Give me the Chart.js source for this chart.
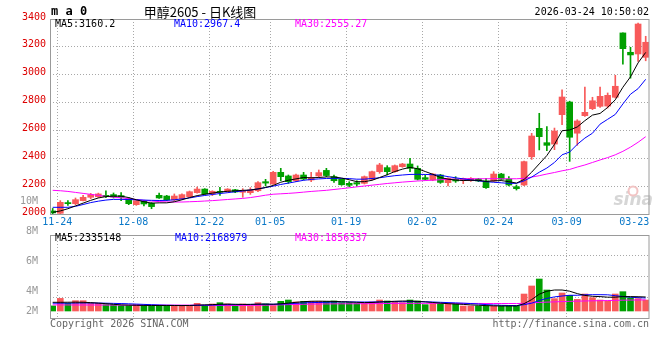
<!DOCTYPE html>
<html><head><meta charset="utf-8">
<script src="https://cdn.jsdelivr.net/npm/chart.js@4.4.1/dist/chart.umd.min.js"></script>
<style>
html,body{margin:0;padding:0;background:#fff;}
#wrap{position:relative;width:660px;height:360px;overflow:hidden;}
canvas{position:absolute;left:0;top:0;}
</style></head><body>
<div id="wrap"><canvas id="k" width="660" height="360"></canvas><canvas id="v" width="660" height="360"></canvas></div>
<script>
// ---------------- data ----------------
const dates = [
 '11-24','11-25','11-26','11-27','11-28',
 '12-01','12-02','12-03','12-04','12-05',
 '12-08','12-09','12-10','12-11','12-12',
 '12-15','12-16','12-17','12-18','12-19',
 '12-22','12-23','12-24','12-25','12-26',
 '12-29','12-30','12-31',
 '01-05','01-06','01-07','01-08','01-09',
 '01-12','01-13','01-14','01-15','01-16',
 '01-19','01-20','01-21','01-22','01-23',
 '01-26','01-27','01-28','01-29','01-30',
 '02-02','02-03','02-04','02-05','02-06',
 '02-09','02-10','02-11','02-12','02-13',
 '02-24','02-25','02-26','02-27',
 '03-02','03-03','03-04','03-05','03-06',
 '03-09','03-10','03-11','03-12','03-13',
 '03-16','03-17','03-18','03-19','03-20',
 '03-23','03-24'
];
const opens = [2022,2005,2082,2074,2096,2120,2124,2134,2139,2132,
 2110,2067,2091,2077,2134,2129,2101,2110,2124,2153,
 2179,2144,2163,2160,2174,2156,2153,2167,2232,2215,
 2299,2273,2239,2280,2244,2273,2313,2268,2249,2220,
 2225,2220,2249,2304,2333,2304,2340,2359,2328,2261,
 2244,2280,2225,2251,2244,2239,2251,2237,2237,2287,
 2251,2196,2208,2411,2615,2512,2502,2713,2804,2580,
 2706,2756,2773,2775,2838,3300,3161,3149,3125];
const highs = [2040,2096,2096,2115,2134,2148,2150,2167,2151,2153,
 2118,2103,2098,2082,2151,2134,2144,2144,2165,2194,
 2182,2167,2191,2182,2177,2182,2189,2232,2249,2306,
 2328,2280,2287,2299,2299,2316,2328,2280,2253,2232,
 2239,2273,2309,2364,2347,2352,2364,2400,2345,2280,
 2290,2285,2260,2268,2258,2261,2256,2256,2304,2292,
 2268,2208,2380,2579,2723,2627,2617,2892,2810,2677,
 2912,2838,2912,2869,2996,3300,3197,3371,3276];
const lows = [2000,2000,2062,2067,2094,2110,2118,2118,2115,2096,
 2067,2062,2058,2038,2112,2096,2096,2106,2120,2150,
 2140,2132,2134,2156,2153,2120,2141,2160,2201,2213,
 2239,2220,2232,2244,2232,2263,2268,2227,2206,2196,
 2201,2215,2244,2292,2280,2299,2335,2304,2244,2244,
 2239,2220,2201,2227,2218,2234,2232,2184,2232,2244,
 2201,2172,2203,2392,2460,2455,2462,2641,2378,2493,
 2700,2749,2766,2761,2833,3075,2975,3096,3100];
const closes = [2008,2084,2074,2103,2120,2139,2144,2124,2122,2120,
 2074,2096,2072,2053,2115,2101,2129,2139,2160,2179,
 2144,2163,2156,2179,2158,2167,2172,2225,2222,2299,
 2268,2232,2280,2251,2261,2297,2276,2239,2210,2206,
 2215,2268,2304,2352,2304,2347,2359,2328,2249,2249,
 2287,2227,2256,2237,2256,2256,2237,2189,2287,2249,
 2208,2182,2376,2560,2555,2493,2596,2840,2551,2668,
 2730,2813,2845,2852,2917,3187,3142,3364,3233];
const ma5 = [2012,2022,2038,2058,2078,2098,2115,2125,2128,2128,
 2118,2102,2088,2078,2080,2080,2088,2102,2118,2132,
 2142,2150,2158,2163,2166,2170,2172,2180,2190,2205,
 2228,2242,2252,2262,2260,2262,2266,2266,2258,2246,
 2232,2232,2242,2262,2282,2305,2322,2335,2325,2305,
 2285,2262,2250,2244,2240,2242,2242,2234,2238,2240,
 2232,2222,2248,2300,2360,2420,2500,2598,2603,2625,
 2670,2710,2722,2765,2820,2910,2985,3085,3160];
const ma10 = [2048,2048,2048,2055,2068,2082,2092,2100,2105,2105,
 2104,2102,2100,2098,2097,2098,2102,2108,2115,2125,
 2133,2140,2147,2153,2160,2165,2172,2180,2190,2200,
 2212,2222,2232,2242,2248,2252,2255,2256,2256,2254,
 2250,2250,2255,2260,2268,2275,2280,2284,2285,2284,
 2282,2278,2268,2260,2252,2245,2238,2232,2228,2224,
 2220,2220,2238,2265,2300,2330,2370,2425,2445,2500,
 2545,2580,2645,2680,2715,2790,2860,2900,2967];
const ma30 = [2170,2167,2162,2155,2148,2141,2134,2127,2121,2116,
 2110,2104,2098,2093,2089,2087,2086,2086,2088,2090,
 2093,2096,2100,2104,2108,2112,2118,2126,2135,2142,
 2145,2148,2152,2157,2162,2166,2170,2176,2182,2188,
 2195,2201,2207,2213,2219,2224,2229,2233,2237,2240,
 2243,2246,2249,2251,2252,2253,2253,2253,2254,2253,
 2253,2253,2256,2265,2275,2287,2298,2310,2320,2337,
 2352,2370,2388,2405,2425,2450,2480,2515,2555];
const volumes = [850000,2100000,1280000,1720000,1720000,1280000,1280000,1060000,1060000,900000,
 900000,1060000,900000,900000,900000,900000,900000,900000,900000,1280000,
 900000,1170000,1390000,1170000,900000,1170000,900000,1390000,1170000,900000,
 1610000,1830000,1500000,1610000,1610000,1610000,1610000,1670000,1390000,1390000,
 1280000,1280000,1500000,1830000,1670000,1500000,1390000,1830000,1670000,1060000,
 1280000,1280000,1170000,1170000,830000,830000,830000,830000,830000,830000,
 830000,830000,2830000,4170000,5330000,3500000,2060000,3000000,2610000,1940000,
 2830000,2220000,1830000,1670000,2830000,3220000,2220000,2060000,1830000];
const volMa5 = [1450000,1450000,1460000,1470000,1450000,1400000,1320000,1220000,1120000,1020000,
 980000,950000,930000,920000,920000,920000,920000,900000,920000,980000,
 1020000,1060000,1120000,1150000,1120000,1100000,1100000,1140000,1150000,1120000,
 1200000,1320000,1450000,1550000,1620000,1640000,1620000,1600000,1550000,1500000,
 1450000,1400000,1420000,1500000,1560000,1620000,1660000,1660000,1600000,1520000,
 1420000,1320000,1220000,1160000,1100000,1020000,960000,900000,860000,840000,
 840000,840000,1220000,1900000,2800000,3300000,3500000,3500000,3300000,2900000,
 2600000,2450000,2400000,2300000,2300000,2400000,2400000,2380000,2335148];
const volMa10 = [1300000,1300000,1300000,1320000,1330000,1330000,1320000,1300000,1270000,1240000,
 1200000,1150000,1100000,1050000,1000000,960000,930000,920000,920000,940000,
 960000,990000,1020000,1050000,1060000,1080000,1100000,1120000,1130000,1130000,
 1150000,1200000,1280000,1350000,1400000,1420000,1450000,1500000,1520000,1520000,
 1500000,1500000,1500000,1520000,1540000,1550000,1550000,1570000,1570000,1540000,
 1500000,1450000,1400000,1350000,1300000,1240000,1160000,1070000,1000000,950000,
 920000,900000,1050000,1300000,1750000,2100000,2350000,2500000,2620000,2620000,
 2700000,2720000,2720000,2700000,2550000,2420000,2300000,2220000,2168979];
const volMa30 = [1020000,1020000,1010000,1010000,1000000,1000000,1000000,990000,990000,980000,
 980000,980000,980000,980000,980000,980000,980000,980000,980000,980000,
 950000,930000,920000,920000,920000,920000,930000,950000,970000,1000000,
 1030000,1060000,1090000,1120000,1150000,1170000,1180000,1190000,1200000,1200000,
 1210000,1220000,1230000,1240000,1250000,1260000,1270000,1280000,1280000,1280000,
 1280000,1280000,1280000,1270000,1270000,1260000,1260000,1250000,1250000,1250000,
 1250000,1240000,1280000,1340000,1420000,1480000,1520000,1570000,1610000,1640000,
 1670000,1700000,1720000,1740000,1770000,1800000,1820000,1840000,1856337];
const dateTickLabels = ['11-24','12-08','12-22','01-05','01-19','02-02','02-24','03-09','03-23'];
const priceTickValues = [2000,2200,2400,2600,2800,3000,3200,3400];
const volTickValues = [2000000,4000000,6000000,8000000,10000000];
const maTag = 'm a 0';
const titleText = '甲醇2605 - 日K线图';
const timeText = '2026-03-24 10:50:02';
const priceLegend = ['MA5:3160.2','MA10:2967.4','MA30:2555.27'];
const volLegend = ['MA5:2335148','MA10:2168979','MA30:1856337'];
const copyrightText = 'Copyright 2026 SINA.COM';
const urlText = 'http://finance.sina.com.cn';
const watermarkText = 'sina';

// ---------------- styles ----------------
const RED = '#f85a5a', GREEN = '#00a000';
const MA_COLORS = ['#000000', '#0000ff', '#ff00ff'];
const GRID = '#a8a8a8', FRAME = '#9a9a9a';
const MONO = '"DejaVu Sans Mono", "Liberation Mono", monospace';
const X_MIN = -0.355, X_MAX = 78.435;

const candleColors = closes.map((c, i) => c >= opens[i] ? RED : GREEN);
const pts = arr => arr.map((y, x) => ({x, y}));

function dateTicks(s) {
  const last = dates.length - 1;
  s.ticks = dateTickLabels.map(lbl => {
    const i = dates.indexOf(lbl);
    const want = i + 0.6;
    const v = Math.min(want, last - 1.5);
    return {value: v, lbl, clamped: v < want};
  });
}
const gridColor = c => (c.tick && c.tick.clamped) ? 'rgba(0,0,0,0)' : GRID;

const framePlugin = {
  id: 'frame',
  afterDatasetsDraw(chart) {
    const {ctx, chartArea: a} = chart;
    ctx.save();
    ctx.strokeStyle = FRAME; ctx.lineWidth = 1;
    ctx.strokeRect(a.left + 0.5, a.top + 0.5, a.right - a.left - 0.5, a.bottom - a.top);
    ctx.restore();
  }
};
function text(ctx, s, x, y, color, font, align) {
  ctx.fillStyle = color; ctx.font = font; ctx.textAlign = align || 'left'; ctx.textBaseline = 'middle';
  ctx.fillText(s, x, y);
}
const headerPlugin = {
  id: 'header',
  beforeDatasetsDraw(chart) {
    const ctx = chart.ctx;
    ctx.save();
    ctx.font = 'italic bold 17px "DejaVu Sans", sans-serif';
    ctx.fillStyle = '#d6d6d6'; ctx.textAlign = 'right'; ctx.textBaseline = 'alphabetic';
    ctx.fillText(watermarkText, 653, 205);
    ctx.strokeStyle = '#f2c4c4'; ctx.lineWidth = 2;
    ctx.beginPath(); ctx.arc(633, 191, 4.5, 0, Math.PI * 2); ctx.stroke();
    ctx.restore();
  },
  afterDraw(chart) {
    const ctx = chart.ctx;
    ctx.save();
    text(ctx, maTag, 51, 12, '#000', 'bold 12px ' + MONO);
    text(ctx, titleText, 200, 12, '#000', '13px "Noto Sans CJK SC", sans-serif', 'center');
    text(ctx, timeText, 649, 12, '#000', '10px ' + MONO, 'right');
    text(ctx, priceLegend[0], 55, 24, MA_COLORS[0], '10px ' + MONO);
    text(ctx, priceLegend[1], 174, 24, MA_COLORS[1], '10px ' + MONO);
    text(ctx, priceLegend[2], 295, 24, MA_COLORS[2], '10px ' + MONO);
    ctx.restore();
  }
};
const footerPlugin = {
  id: 'footer',
  afterDraw(chart) {
    const ctx = chart.ctx;
    ctx.save();
    text(ctx, volLegend[0], 55, 238.5, MA_COLORS[0], '10px ' + MONO);
    text(ctx, volLegend[1], 175, 238.5, MA_COLORS[1], '10px ' + MONO);
    text(ctx, volLegend[2], 295, 238.5, MA_COLORS[2], '10px ' + MONO);
    text(ctx, copyrightText, 50, 324, '#666', '10px ' + MONO);
    text(ctx, urlText, 649, 324, '#666', '10px ' + MONO, 'right');
    ctx.restore();
  }
};

const lineDs = (arr, i, yAxisID) => ({
  type: 'line', data: pts(arr), borderColor: MA_COLORS[i], borderWidth: 1,
  pointRadius: 0, tension: 0, order: i, yAxisID
});

Chart.defaults.font.family = MONO;
Chart.defaults.font.size = 10;

// ---------------- price chart ----------------
new Chart(document.getElementById('k'), {
  type: 'bar',
  data: {
    datasets: [
      lineDs(ma5, 0, 'y'), lineDs(ma10, 1, 'y'), lineDs(ma30, 2, 'y'),
      {type: 'bar', data: opens.map((o, x) => ({x, y: [o, closes[x]]})), backgroundColor: candleColors,
       barThickness: 6, grouped: false, minBarLength: 1, order: 5, yAxisID: 'y'},
      {type: 'bar', data: lows.map((l, x) => ({x, y: [l, highs[x]]})), backgroundColor: candleColors,
       barThickness: 1, grouped: false, order: 6, yAxisID: 'y'}
    ]
  },
  options: {
    responsive: false, animation: false, events: [],
    layout: {padding: {left: 0, top: 19, right: 11, bottom: 126}},
    plugins: {legend: {display: false}, tooltip: {enabled: false}},
    scales: {
      x: {type: 'linear', min: X_MIN, max: X_MAX, offset: false,
          afterBuildTicks: dateTicks,
          afterFit: s => { s.height = 20; s.paddingLeft = 0; s.paddingRight = 0; },
          ticks: {autoSkip: false, maxRotation: 0, color: '#0a78c8', padding: 2,
                  font: {family: MONO, size: 10}, callback: (v, i, t) => t[i].lbl},
          grid: {offset: false, drawTicks: false, color: gridColor, lineWidth: 1},
          border: {display: false, dash: [1, 2]}},
      y: {type: 'linear', min: 2000, max: 3400, beginAtZero: false,
          afterBuildTicks: s => { s.ticks = priceTickValues.map(v => ({value: v})); },
          afterFit: s => { s.width = 50; s.paddingTop = 0; s.paddingBottom = 0; },
          ticks: {autoSkip: false, color: '#dd0000', padding: 4, labelOffset: -2,
                  font: {family: MONO, size: 10}, callback: v => String(v)},
          grid: {drawTicks: false, color: GRID, lineWidth: 1},
          border: {display: false, dash: [1, 2]}}
    }
  },
  plugins: [framePlugin, headerPlugin]
});

// ---------------- volume chart ----------------
new Chart(document.getElementById('v'), {
  type: 'bar',
  data: {
    datasets: [
      lineDs(volMa5, 0, 'yg'), lineDs(volMa10, 1, 'yg'), lineDs(volMa30, 2, 'yg'),
      {type: 'bar', data: pts(volumes), backgroundColor: candleColors,
       barThickness: 6, grouped: false, order: 5, yAxisID: 'yg'}
    ]
  },
  options: {
    responsive: false, animation: false, events: [],
    layout: {padding: {left: 0, top: 235, right: 11, bottom: 42}},
    plugins: {legend: {display: false}, tooltip: {enabled: false}},
    scales: {
      x: {type: 'linear', min: X_MIN, max: X_MAX, offset: false,
          afterBuildTicks: dateTicks,
          afterFit: s => { s.height = 0; s.paddingLeft = 0; s.paddingRight = 0; },
          ticks: {display: false, autoSkip: false},
          grid: {offset: false, drawTicks: false, color: gridColor, lineWidth: 1},
          border: {display: false, dash: [1, 2]}},
      yg: {type: 'linear', position: 'right', min: -1166667, max: 12666667, beginAtZero: false,
           afterBuildTicks: s => { s.ticks = [1, 2, 3].map(q => ({value: s.min + q * (s.max - s.min) / 4})); },
           afterFit: s => { s.width = 0; s.paddingTop = 0; s.paddingBottom = 0; },
           ticks: {display: false, autoSkip: false},
           grid: {drawTicks: false, color: GRID, lineWidth: 1},
           border: {display: false, dash: [1, 2]}},
      yl: {type: 'linear', position: 'left', min: 2200000, max: 7733333,
           afterBuildTicks: s => { s.ticks = volTickValues.map(v => ({value: Math.max(v, s.min + 466667)})); },
           afterFit: s => { s.width = 50; s.paddingTop = 0; s.paddingBottom = 0; },
           ticks: {autoSkip: false, color: '#999999', padding: 4, font: {family: MONO, size: 10},
                   callback: (v, i) => (volTickValues[i] / 1000000) + 'M'},
           grid: {display: false},
           border: {display: false}}
    }
  },
  plugins: [framePlugin, footerPlugin]
});
</script>
</body></html>
